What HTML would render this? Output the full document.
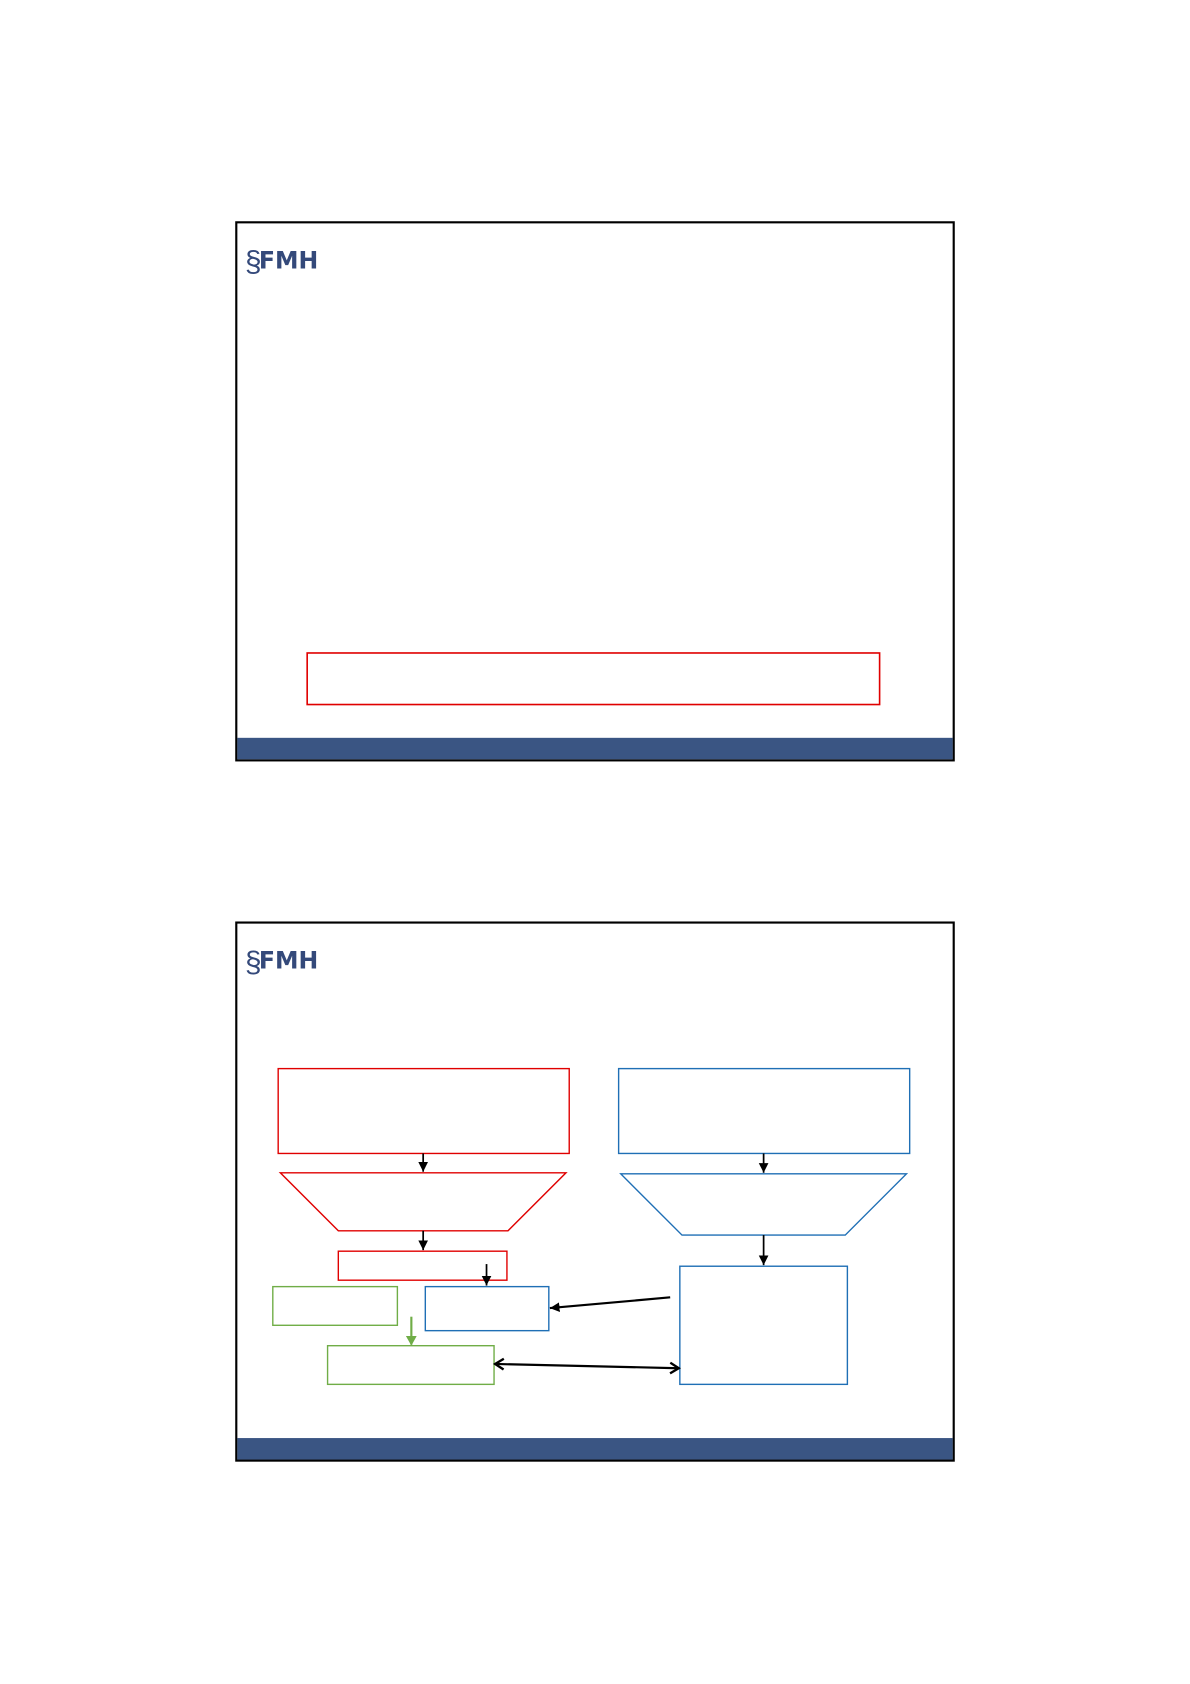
<!DOCTYPE html>
<html><head><meta charset="utf-8"><style>
html,body{margin:0;padding:0;background:#fff;width:1190px;height:1684px;overflow:hidden}
svg{display:block}
</style></head><body>
<svg width="1190" height="1684" viewBox="0 0 1108 1568" xmlns="http://www.w3.org/2000/svg">
<defs>
<marker id="ab" markerWidth="10" markerHeight="10" refX="9" refY="5" orient="auto" markerUnits="userSpaceOnUse"><path d="M0,0.5 L9,5 L0,9.5 z" fill="#000"/></marker>
<marker id="abs" markerWidth="12" markerHeight="12" refX="10" refY="6" orient="auto-start-reverse" markerUnits="userSpaceOnUse"><path d="M2,1 L10,6 L2,11" fill="none" stroke="#000" stroke-width="2.2"/></marker>
<marker id="ag" markerWidth="9" markerHeight="10" refX="8" refY="5" orient="auto" markerUnits="userSpaceOnUse"><path d="M0,0 L9,5 L0,10 z" fill="#70ad47"/></marker>
</defs>
<!-- slide 1 -->
<rect x="220" y="207" width="668" height="501" fill="#fff" stroke="#000" stroke-width="2"/>
<rect x="221" y="687" width="666" height="20" fill="#3a5583"/>
<text x="228" y="253" font-family="Liberation Sans, sans-serif" font-size="28" fill="#34497a">§</text>
<text x="241" y="250" font-family="DejaVu Sans, sans-serif" font-size="22" font-weight="bold" fill="#34497a">FMH</text>
<rect x="286" y="608" width="533" height="48" fill="none" stroke="#e00000" stroke-width="1.5"/>
<!-- slide 2 -->
<rect x="220" y="859" width="668" height="501" fill="#fff" stroke="#000" stroke-width="2"/>
<rect x="221" y="1339" width="666" height="20" fill="#3a5583"/>
<text x="228" y="905" font-family="Liberation Sans, sans-serif" font-size="28" fill="#34497a">§</text>
<text x="241" y="902" font-family="DejaVu Sans, sans-serif" font-size="22" font-weight="bold" fill="#34497a">FMH</text>
<g fill="none" stroke-width="1.3">
<rect x="259" y="995" width="271" height="79" stroke="#e00000"/>
<polygon points="261,1092 527,1092 473,1146 315,1146" stroke="#e00000"/>
<rect x="315" y="1165" width="157" height="27" stroke="#e00000"/>
<rect x="576" y="995" width="271" height="79" stroke="#1f6fb5"/>
<polygon points="578,1093 844,1093 787,1150 635,1150" stroke="#1f6fb5"/>
<rect x="633" y="1179" width="156" height="110" stroke="#1f6fb5"/>
<rect x="396" y="1198" width="115" height="41" stroke="#1f6fb5"/>
<rect x="254" y="1198" width="116" height="36" stroke="#70ad47"/>
<rect x="305" y="1253" width="155" height="36" stroke="#70ad47"/>
</g>
<g stroke="#000" stroke-width="1.6" fill="none">
<line x1="394" y1="1074" x2="394" y2="1091" marker-end="url(#ab)"/>
<line x1="394" y1="1146" x2="394" y2="1164" marker-end="url(#ab)"/>
<line x1="453" y1="1177" x2="453" y2="1197" marker-end="url(#ab)"/>
<line x1="711" y1="1074" x2="711" y2="1092" marker-end="url(#ab)"/>
<line x1="711" y1="1150" x2="711" y2="1178" marker-end="url(#ab)"/>
<line x1="624" y1="1208" x2="512" y2="1218" marker-end="url(#ab)" stroke-width="2"/>
<line x1="461" y1="1270" x2="632" y2="1274" marker-start="url(#abs)" marker-end="url(#abs)" stroke-width="2"/>
</g>
<line x1="383" y1="1226" x2="383" y2="1252" stroke="#70ad47" stroke-width="2" marker-end="url(#ag)"/>
</svg>
</body></html>
